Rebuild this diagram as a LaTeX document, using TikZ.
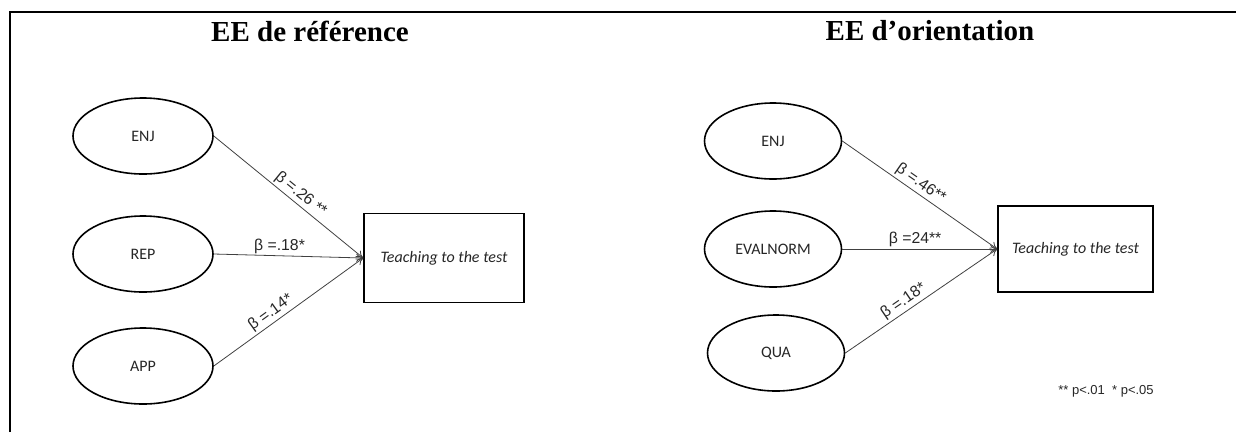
\documentclass[tikz,border=0pt]{standalone}
\usepackage{fontspec}
\setmainfont{Liberation Serif}
\newfontfamily\calibf{Carlito}
\newfontfamily\arialf{Liberation Sans}
\usetikzlibrary{shapes.geometric,arrows.meta}
\tikzset{
  latent/.style={ellipse,draw=black,line width=1.6pt,minimum width=140pt,minimum height=76pt,inner sep=0pt,
    font=\calibf\fontsize{16}{19}\selectfont,text=black!85},
  outbox/.style={rectangle,draw=black,line width=1.6pt,inner sep=0pt,
    font=\calibf\itshape\fontsize{16}{19}\selectfont,text=black!85},
  titletext/.style={font=\bfseries\fontsize{29}{34}\selectfont},
  path/.style={draw=black!75,line width=0.8pt,-{To[length=7pt,width=8pt]}},
  coef/.style={font=\arialf\fontsize{15.8}{18}\selectfont,text=black!85,inner sep=2pt},
  note/.style={font=\arialf\fontsize{13}{15}\selectfont,text=black!85}
}
\begin{document}
\begin{tikzpicture}[x=1pt,y=-1pt]
\useasboundingbox (0,0) rectangle (1236,432);
% frame
\coordinate (ftr) at (1236,12);
\coordinate (ftl) at (10,12);
\coordinate (fbl) at (10,432);
\draw[line width=2.5pt] (fbl) -- (ftl) -- (ftr);
% titles
\node[titletext] (t1) at (310,31) {EE de référence};
\node[titletext] (t2) at (930,31) {EE d’orientation};
% left model
\node[latent] (enj1) at (143,136) {ENJ};
\node[latent] (rep) at (143,254) {REP};
\node[latent] (app) at (143,366) {APP};
\node[outbox,minimum width=160pt,minimum height=89pt] (ttt1) at (444,258) {Teaching to the test};
\draw[path] (enj1.east) -- node[coef,sloped,above,pos=0.54] {β =.26 **} (ttt1.west);
\draw[path] (rep.east) -- node[coef,above,pos=0.44] {β =.18*} (ttt1.west);
\draw[path] (app.east) -- node[coef,sloped,above,pos=0.42] {β =.14*} (ttt1.west);
% right model
\node[latent,minimum width=137pt] (enj2) at (773,141) {ENJ};
\node[latent,minimum width=137pt] (eval) at (773,249) {EVALNORM};
\node[latent,minimum width=137pt] (qua) at (776,353) {QUA};
\node[outbox,minimum width=155pt,minimum height=86pt] (ttt2) at (1075.5,249) {Teaching to the test};
\draw[path] (enj2.east) -- node[coef,sloped,above,pos=0.47] {β =.46**} (ttt2.west);
\draw[path] (eval.east) -- node[coef,above,pos=0.47] {β =24**} (ttt2.west);
\draw[path] (qua.east) -- node[coef,sloped,above,pos=0.42] {β =.18*} (ttt2.west);
\node[note] (sig) at (1106,391) {** p<.01 ~* p<.05};
\end{tikzpicture}
\end{document}
